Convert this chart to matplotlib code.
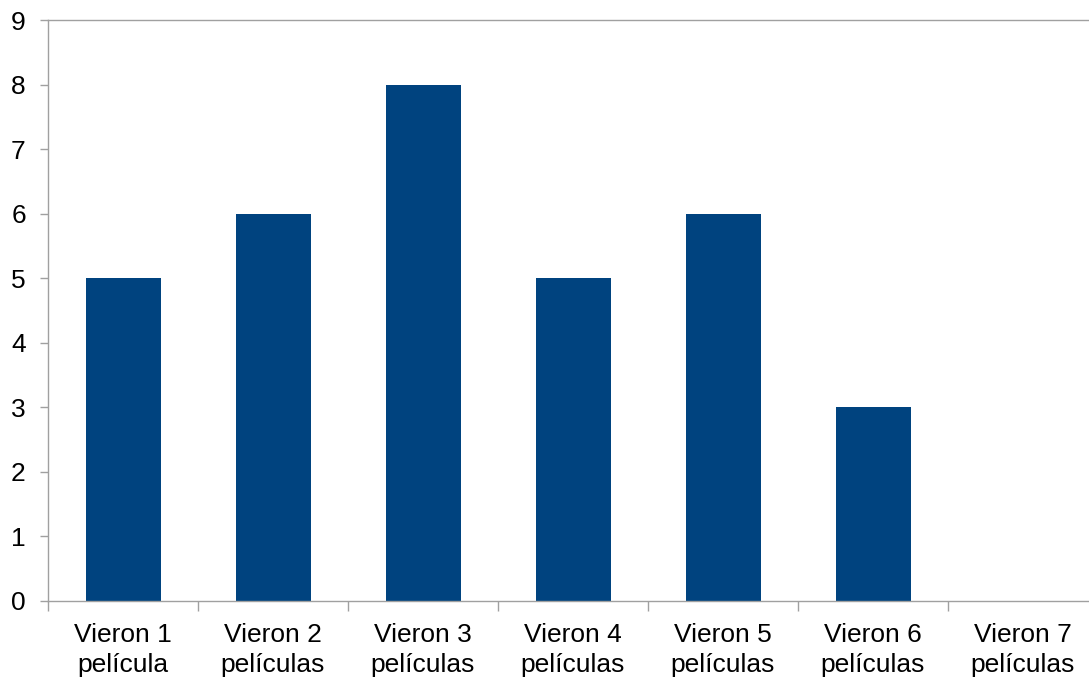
import numpy as np
import matplotlib.pyplot as plt

categorias = ["Vieron 1\npelícula", "Vieron 2\npelículas", "Vieron 3\npelículas",
              "Vieron 4\npelículas", "Vieron 5\npelículas", "Vieron 6\npelículas",
              "Vieron 7\npelículas"]
valores = [5, 6, 8, 5, 6, 3, 0]
yticks = list(range(0, 10))

plt.rcParams["font.family"] = ["Liberation Sans", "DejaVu Sans"]

fig = plt.figure(figsize=(10.89, 6.79), dpi=100)
# el area de trazado se sale un poco por la derecha, como en el original
ax = fig.add_axes([48 / 1089, 78 / 679, 1050 / 1089, 581 / 679])

x = np.arange(len(categorias))
ax.bar(x, valores, width=0.5, color="#00437F", zorder=2)

ax.set_xlim(-0.5, len(categorias) - 0.5)
ax.set_ylim(0, 9)
ax.set_yticks(yticks)
ax.set_xticks(x)
ax.set_xticklabels(categorias, fontsize=19, linespacing=1.32)
ax.set_xticks(np.arange(len(categorias) + 1) - 0.5, minor=True)
ax.tick_params(axis="x", which="major", length=0, pad=16)
ax.tick_params(axis="x", which="minor", length=7, color="#A0A0A0", width=1)
ax.tick_params(axis="y", labelsize=19, length=6, color="#A0A0A0", width=1, pad=10)

for lado in ["left", "bottom", "top"]:
    ax.spines[lado].set_color("#A0A0A0")
    ax.spines[lado].set_linewidth(1)
ax.spines["right"].set_visible(False)

fig.savefig("out.png", dpi=100)
